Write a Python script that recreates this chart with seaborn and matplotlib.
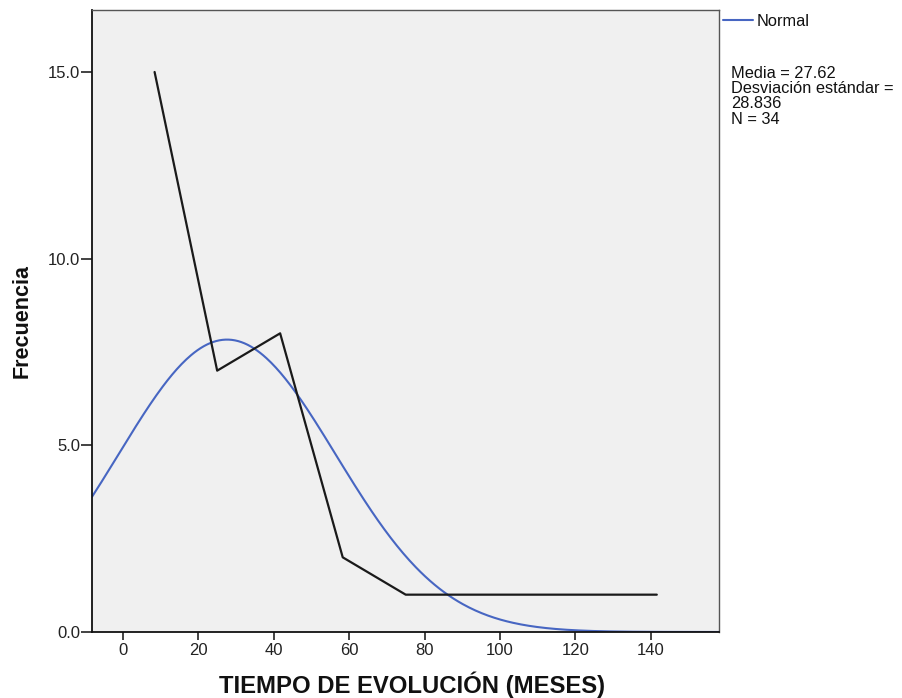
import numpy as np
import pandas as pd
import matplotlib
matplotlib.use("Agg")
import matplotlib.pyplot as plt
import seaborn as sns

# Frequency polygon: bin midpoints (months) and counts
bin_mid = [8.4, 25.0, 41.7, 58.3, 75.0, 141.6]
freq = [15, 7, 8, 2, 1, 1]

# Summary statistics for the fitted normal curve
mean_val = 27.62
sd_val = 28.836
n_obs = 34
bin_width = 16.65

x_ticks = [0, 20, 40, 60, 80, 100, 120, 140]
y_ticks = [0.0, 5.0, 10.0, 15.0]

sns.set_theme(style="white")
plt.rcParams["font.family"] = ["Liberation Sans", "DejaVu Sans"]

W, H = 902, 698
fig = plt.figure(figsize=(W / 100, H / 100), dpi=100)
ax = fig.add_axes([92 / W, 1 - 632 / H, (719 - 92) / W, (632 - 10) / H])
ax.set_facecolor("#f0f0f0")

xmin, xmax = -8.2, 158.1
xs = np.linspace(xmin, xmax, 400)
dens = n_obs * bin_width / (sd_val * np.sqrt(2 * np.pi)) * np.exp(-0.5 * ((xs - mean_val) / sd_val) ** 2)
curve = pd.DataFrame({"x": xs, "y": dens})
poly = pd.DataFrame({"x": bin_mid, "y": freq})

sns.lineplot(data=curve, x="x", y="y", ax=ax, color="#4766c2", lw=1.5, sort=False)
sns.lineplot(data=poly, x="x", y="y", ax=ax, color="#1a1a1a", lw=1.6, sort=False)

ax.set_xlim(xmin, xmax)
ax.set_ylim(0, 16.66)
ax.set_xticks(x_ticks)
ax.set_xticklabels([str(t) for t in x_ticks])
ax.set_yticks(y_ticks)
ax.set_yticklabels([f"{t:.1f}" for t in y_ticks])
ax.tick_params(axis="both", direction="out", width=1.2, color="#222222",
               labelsize=12, labelcolor="#222222", bottom=True, left=True)
ax.tick_params(axis="x", length=5.8, pad=2)
ax.tick_params(axis="y", length=8, pad=0.5)

for side in ["left", "bottom"]:
    ax.spines[side].set_color("#111111")
    ax.spines[side].set_linewidth(1.3)
for side in ["top", "right"]:
    ax.spines[side].set_color("#555555")
    ax.spines[side].set_linewidth(1.0)

ax.set_xlabel("TIEMPO DE EVOLUCIÓN (MESES)", fontsize=17.2, fontweight="bold", color="#111111", va="center")
ax.xaxis.set_label_coords((412 - 92) / 627, -(685 - 632) / 622)
ax.set_ylabel("Frecuencia", fontsize=15.5, fontweight="bold", color="#111111", va="center")
ax.yaxis.set_label_coords((22 - 92) / 627, (632 - 321) / 622)

# Legend and statistics to the right of the plot area
fig.add_artist(plt.Line2D([723 / W, 753 / W], [1 - 20 / H, 1 - 20 / H],
                          color="#4766c2", lw=1.5))
fig.text(757 / W, 1 - 21 / H, "Normal", fontsize=11.8, va="center", ha="left", color="#111111")

stats_lines = [f"Media = {mean_val}", "Desviación estándar =", f"{sd_val}", f"N = {n_obs}"]
for i, line in enumerate(stats_lines):
    fig.text(731 / W, 1 - (78 + 15.2 * i) / H, line, fontsize=11.8,
             va="baseline", ha="left", color="#111111")

fig.savefig("out.png", dpi=100, facecolor="white")
